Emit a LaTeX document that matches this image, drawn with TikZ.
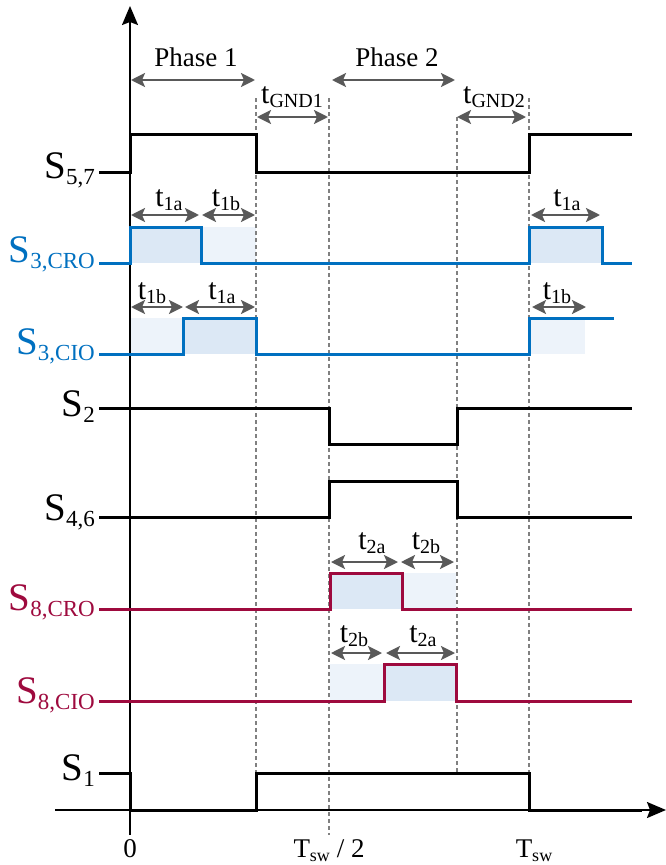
\documentclass[tikz,border=0pt]{standalone}
\usepackage{fontspec}
\setmainfont{Liberation Serif}
\usetikzlibrary{arrows.meta}
\definecolor{sigblue}{RGB}{0,112,192}
\definecolor{sigred}{RGB}{158,10,62}
\definecolor{shadeA}{RGB}{220,232,245}
\definecolor{shadeB}{RGB}{237,243,250}
\definecolor{dimgray}{RGB}{89,89,89}
\definecolor{dashgray}{RGB}{128,128,128}
\newcommand{\siglbl}[2]{{\fontsize{39}{40}\selectfont #1}\raisebox{-6pt}{\fontsize{23}{24}\selectfont #2}}
\newcommand{\tlbl}[1]{{\fontsize{30}{32}\selectfont t}\raisebox{-4pt}{\fontsize{20}{22}\selectfont #1}}
\begin{document}
\begin{tikzpicture}[x=1pt,y={(0pt,-1pt)},
  sigline/.style={line width=3pt,line join=miter,line cap=rect},
  axisline/.style={line width=1.8pt,black},
  dimline/.style={line width=2.4pt,dimgray,{Stealth[length=14pt,width=14pt,inset=3pt]}-{Stealth[length=14pt,width=14pt,inset=3pt]}},
  guide/.style={line width=1.4pt,dashgray,dash pattern=on 4pt off 3pt},
  siglabel/.style={anchor=base east,inner sep=0pt},
  tlabel/.style={anchor=base,inner sep=0pt},
  txt/.style={anchor=base,inner sep=0pt,font=\fontsize{27}{30}\selectfont}]
\useasboundingbox (0,0) rectangle (665,865);
% shades
\fill[shadeA] (130,227) rectangle (201,263);
\fill[shadeB] (201,227) rectangle (256,263);
\fill[shadeA] (530,227) rectangle (602,263);
\fill[shadeB] (130,318) rectangle (183,354);
\fill[shadeA] (183,318) rectangle (256,354);
\fill[shadeB] (530,318) rectangle (585,354);
\fill[shadeA] (330,573) rectangle (402,609);
\fill[shadeB] (402,573) rectangle (456,609);
\fill[shadeB] (330,664) rectangle (384,701);
\fill[shadeA] (384,664) rectangle (456,701);
% guides
\draw[guide] (256,98) -- (256,773);
\draw[guide] (329,98) -- (329,835);
\draw[guide] (457,117) -- (457,773);
\draw[guide] (529,98) -- (529,773);
% axes
\coordinate (yb) at (130,835);
\coordinate (yt) at (130,6);
\coordinate (xl) at (55,810);
\coordinate (xr) at (666,810);
\draw[axisline,-{Stealth[length=19pt,width=16pt,inset=3pt]}] (yb) -- (yt);
\draw[axisline,-{Stealth[length=19pt,width=16pt,inset=3pt]}] (xl) -- (xr);
% signals
\draw[sigline] (100,172) -- (130,172) -- (130,134) -- (256,134) -- (256,172) -- (529,172) -- (529,134) -- (630,134);
\draw[sigline,sigblue] (100,263) -- (130,263) -- (130,227) -- (201,227) -- (201,263) -- (529,263) -- (529,227) -- (602,227) -- (602,263) -- (630,263);
\draw[sigline,sigblue] (100,354) -- (183,354) -- (183,318) -- (256,318) -- (256,354) -- (529,354) -- (529,318) -- (612,318);
\draw[sigline] (100,408) -- (329,408) -- (329,444) -- (457,444) -- (457,408) -- (630,408);
\draw[sigline] (100,517) -- (329,517) -- (329,481) -- (457,481) -- (457,517) -- (630,517);
\draw[sigline,sigred] (100,609) -- (330,609) -- (330,573) -- (402,573) -- (402,609) -- (630,609);
\draw[sigline,sigred] (100,701) -- (384,701) -- (384,664) -- (456,664) -- (456,701) -- (630,701);
\draw[sigline] (100,773) -- (130,773) -- (130,810) -- (256,810) -- (256,773) -- (529,773) -- (529,810) -- (640,810);
% signal labels
\node[siglabel] (l57) at (95,178) {\siglbl{S}{5,7}};
\node[siglabel,text=sigblue] (l3r) at (95,262) {\siglbl{S}{3,CRO}};
\node[siglabel,text=sigblue] (l3c) at (95,354) {\siglbl{S}{3,CIO}};
\node[siglabel] (l2) at (95,416) {\siglbl{S}{2}};
\node[siglabel] (l46) at (95,520) {\siglbl{S}{4,6}};
\node[siglabel,text=sigred] (l8r) at (95,610) {\siglbl{S}{8,CRO}};
\node[siglabel,text=sigred] (l8c) at (95,703) {\siglbl{S}{8,CIO}};
\node[siglabel] (l1) at (95,780) {\siglbl{S}{1}};
% phase arrows
\draw[dimline] (131,80) -- (255,80);
\node[txt] (ph1) at (196,66) {Phase 1};
\draw[dimline] (332,80) -- (455,80);
\node[txt] (ph2) at (397,66) {Phase 2};
\draw[dimline] (257,117) -- (328,117);
\node[tlabel] (g1) at (292,103) {\tlbl{GND1}};
\draw[dimline] (457,117) -- (526,117);
\node[tlabel] (g2) at (494,103) {\tlbl{GND2}};
% t1 arrows
\draw[dimline] (131,215) -- (199,215);
\node[tlabel] at (169,206) {\tlbl{1a}};
\draw[dimline] (202,215) -- (255,215);
\node[tlabel] at (226,206) {\tlbl{1b}};
\draw[dimline] (531,215) -- (600,215);
\node[tlabel] at (567,206) {\tlbl{1a}};
\draw[dimline] (131,307) -- (183,307);
\node[tlabel] at (152,299) {\tlbl{1b}};
\draw[dimline] (185,307) -- (255,307);
\node[tlabel] at (222,299) {\tlbl{1a}};
\draw[dimline] (532,307) -- (586,307);
\node[tlabel] at (557,299) {\tlbl{1b}};
% t2 arrows
\draw[dimline] (331,562) -- (398,562);
\node[tlabel] at (372,549) {\tlbl{2a}};
\draw[dimline] (401,562) -- (454,562);
\node[tlabel] at (426,549) {\tlbl{2b}};
\draw[dimline] (331,653) -- (382,653);
\node[tlabel] at (354,642) {\tlbl{2b}};
\draw[dimline] (386,653) -- (455,653);
\node[tlabel] at (423,642) {\tlbl{2a}};
% time labels
\node[txt] (t0) at (130,857) {0};
\node[txt] (th) at (329,857) {T\raisebox{-4pt}{\fontsize{18}{20}\selectfont sw} / 2};
\node[txt] (tf) at (534,857) {T\raisebox{-4pt}{\fontsize{18}{20}\selectfont sw}};
\end{tikzpicture}
\end{document}
